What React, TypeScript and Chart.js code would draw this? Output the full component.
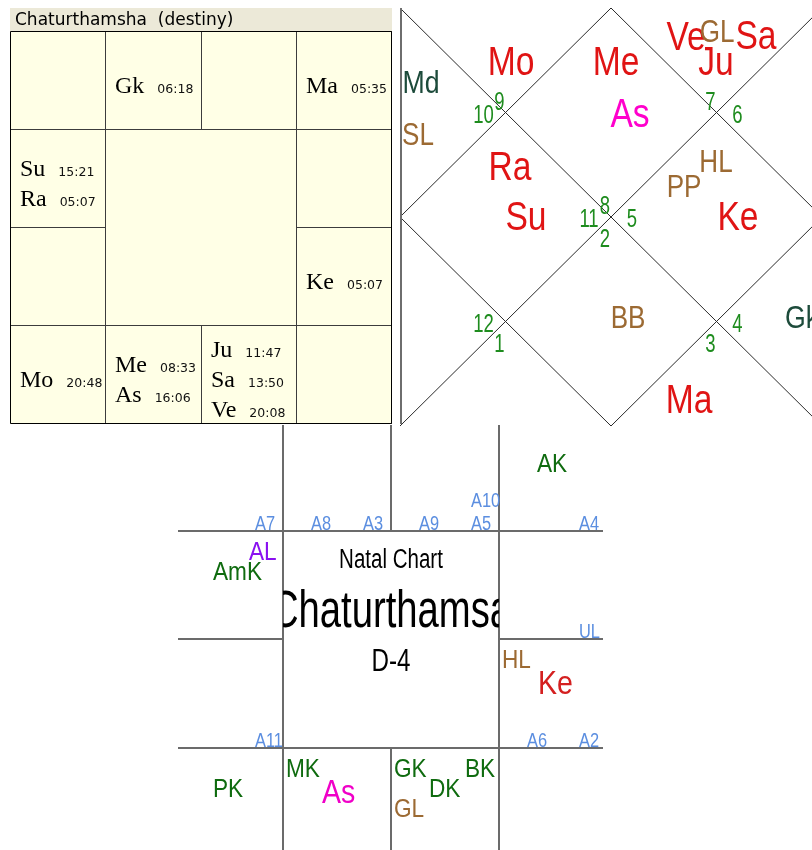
import React, { useEffect, useRef } from "react";
import { Chart, registerables } from "chart.js";
Chart.register(...registerables);

/* ======================= DATA ======================= */
// Panel 1 – "Chaturthamsha (destiny)" square chart: planet, degree, sign
const D4_TITLE = "Chaturthamsha  (destiny)";
const D4_PLANETS = ["Gk", "Ma", "Su", "Ra", "Ke", "Mo", "Me", "As", "Ju", "Sa", "Ve"];
const D4_DEGREES = ["06:18", "05:35", "15:21", "05:07", "05:07", "20:48", "08:33", "16:06", "11:47", "13:50", "20:08"];
const D4_SIGNS = [1, 3, 11, 11, 5, 9, 8, 8, 7, 7, 7];

// Panel 2 – North-Indian diamond chart: sign number of houses 1..12, labels and their houses
const NI_HOUSE_SIGNS = [8, 9, 10, 11, 12, 1, 2, 3, 4, 5, 6, 7];
const NI_LABELS = ["Me", "As", "Mo", "Md", "SL", "Ra", "Su", "BB", "Ma", "Gk", "PP", "HL", "Ke", "Ve", "GL", "Sa", "Ju"];
const NI_LABEL_HOUSES = [1, 1, 2, 3, 3, 4, 4, 7, 8, 9, 10, 10, 10, 12, 12, 12, 12];
const NI_LABEL_KINDS = ["graha", "lagna", "graha", "upagraha", "special", "graha", "graha", "special", "graha", "upagraha", "special", "special", "graha", "graha", "special", "graha", "graha"];

// Panel 3 – Natal Chart (D-4) with arudhas and karakas
const NC_TITLES = ["Natal Chart", "Chaturthamsa", "D-4"];
const NC_ARUDHAS = ["A7", "A8", "A3", "A9", "A5", "A10", "A4", "UL", "A11", "A6", "A2"];
const NC_ARUDHA_SIGNS = [12, 1, 1, 2, 2, 2, 3, 4, 10, 5, 5];
const NC_LABELS = ["AK", "AL", "AmK", "HL", "Ke", "PK", "MK", "As", "GK", "GL", "DK", "BK"];
const NC_LABEL_SIGNS = [3, 11, 11, 5, 5, 9, 8, 8, 7, 7, 7, 7];
const NC_LABEL_KINDS = ["karaka", "arudhaLagna", "karaka", "special", "graha", "karaka", "karaka", "lagna", "karaka", "special", "karaka", "karaka"];

/* ======================= LAYOUT ======================= */
const W = 812;
const H = 850;
// South-Indian fixed sign cells [col,row]
const SOUTH_CELL: Record<number, [number, number]> = {
  12: [0, 0], 1: [1, 0], 2: [2, 0], 3: [3, 0], 4: [3, 1], 5: [3, 2],
  6: [3, 3], 7: [2, 3], 8: [1, 3], 9: [0, 3], 10: [0, 2], 11: [0, 1],
};

// panel 1 geometry
const A_TITLE_BAR = { x0: 10, y0: 8, x1: 392, y1: 31 };
const A_COLS = [10, 105, 201, 296, 391];
const A_ROWS = [31, 129, 227, 325, 423];
const A_NAME_INSET = 10;
const A_LINE_GAP = 30;
const A_BASE_SHIFT = 13;
const A_DEG_GAP = 13;

// panel 2 geometry
const NI_BOX = { x: 400, y: 8, w: 422, h: 418 };
const NI_ANCHORS: [number, number][] = [
  [0.5, 0.25], [0.25, 1 / 12], [1 / 12, 0.25], [0.25, 0.5], [1 / 12, 0.75], [0.25, 11 / 12],
  [0.5, 0.75], [0.75, 11 / 12], [11 / 12, 0.75], [0.75, 0.5], [11 / 12, 0.25], [0.75, 1 / 12],
];
const NI_OFFSETS: [number, number][] = [
  [5, -37.5], [19, 14.5], [5.5, 32.2], [-14.2, -19.5], [-17.2, 32.5], [4.5, -37], [20.5, 13],
  [17, 6.5], [-27.5, 21.8], [15.2, 6.5], [-32.5, -20], [-0.5, -45], [21.5, 13],
  [-30.5, 7.2], [0.5, -0.8], [39.5, 6.2], [-0.5, 32.2],
];
const NI_POINTS: Record<string, [number, number]> = {
  C: [0.5, 0.5], TL: [0.25, 0.25], TR: [0.75, 0.25], BL: [0.25, 0.75], BR: [0.75, 0.75],
};
const NI_DIRS: Record<string, [number, number]> = { up: [-6, -3], left: [-22, 10], right: [21, 10], down: [-6, 30] };
const NI_NUM_POINT = ["C", "TL", "TL", "C", "BL", "BL", "C", "BR", "BR", "C", "TR", "TR"];
const NI_NUM_DIR = ["up", "up", "left", "left", "left", "down", "down", "down", "right", "right", "right", "up"];

// panel 3 geometry
const C_COLS = [175, 283, 391, 499, 607];
const C_ROWS = [423, 531, 639, 748, 856];
const C_ARUDHA_SLOTS: [number, number][] = [[28, -1], [80, -1], [80, -24]];
const NC_ARUDHA_SLOT = [1, 0, 1, 0, 1, 2, 1, 1, 1, 0, 1];
const C_LABEL_SLOTS: [number, number][] = [[3, 29], [74, 29], [38, 49], [3, 69], [39, 55]];
const NC_LABEL_SLOT = [2, 1, 2, 0, 4, 2, 0, 4, 0, 3, 2, 1];
const C_TITLE_BASELINES = [37, 96, 140];
const C_TITLE_KINDS = ["ncTitle", "ncBig", "ncSub"];

/* ======================= STYLES ======================= */
type Style = { font: string; color: string; sx: number; align: CanvasTextAlign; clip?: [number, number, number, number] };
const STYLES: Record<string, Style> = {
  aTitle: { font: "17px 'DejaVu Sans'", color: "#000000", sx: 1, align: "left" },
  aName: { font: "24px 'Liberation Serif'", color: "#000000", sx: 1, align: "left" },
  aDeg: { font: "12.5px 'DejaVu Sans'", color: "#111111", sx: 1, align: "left" },
  graha: { font: "40px 'Liberation Sans'", color: "#E01414", sx: 0.84, align: "center" },
  lagna: { font: "40px 'Liberation Sans'", color: "#FF00CC", sx: 0.84, align: "center" },
  special: { font: "31px 'Liberation Sans'", color: "#9C6A33", sx: 0.84, align: "center" },
  upagraha: { font: "31px 'Liberation Sans'", color: "#1D4B3B", sx: 0.86, align: "center" },
  niNum: { font: "25px 'Liberation Sans'", color: "#1E8C1E", sx: 0.74, align: "center" },
  ncArudha: { font: "20px 'Liberation Sans'", color: "#5B8EE0", sx: 0.82, align: "left" },
  nc_karaka: { font: "26px 'Liberation Sans'", color: "#0F6B0F", sx: 0.87, align: "left" },
  nc_arudhaLagna: { font: "26px 'Liberation Sans'", color: "#8A10F0", sx: 0.87, align: "left" },
  nc_special: { font: "26px 'Liberation Sans'", color: "#9C6A33", sx: 0.87, align: "left" },
  nc_graha: { font: "34px 'Liberation Sans'", color: "#D42020", sx: 0.84, align: "left" },
  nc_lagna: { font: "34px 'Liberation Sans'", color: "#F000C8", sx: 0.84, align: "left" },
  ncTitle: { font: "27px 'Liberation Sans'", color: "#000000", sx: 0.76, align: "center" },
  ncBig: { font: "51px 'Liberation Sans'", color: "#000000", sx: 0.75, align: "center", clip: [C_COLS[1], C_ROWS[1], C_COLS[3], C_ROWS[3]] },
  ncSub: { font: "31px 'Liberation Sans'", color: "#000000", sx: 0.78, align: "center" },
};

type Pt = { x: number; y: number };

function lineSet(pts: Pt[], color: string, width: number) {
  return {
    showLine: true, data: pts, borderColor: color, borderWidth: width,
    pointRadius: 0, pointHoverRadius: 0, fill: false, tension: 0,
  };
}
function textSet(pts: Pt[], texts: string[], kinds: string[], suffixes?: string[]) {
  return {
    showLine: false, data: pts, texts, kinds, suffixes,
    pointRadius: 0, pointHoverRadius: 0, borderWidth: 0, backgroundColor: "transparent",
  };
}

function buildDatasets() {
  const sets: any[] = [];
  // ---------- panel 1 lines ----------
  const h = (v: number) => v + 0.5;
  const AL = "#3c3c3c";
  sets.push(lineSet([{ x: h(A_COLS[0]), y: h(A_ROWS[0]) }, { x: h(A_COLS[4]), y: h(A_ROWS[0]) }, { x: h(A_COLS[4]), y: h(A_ROWS[4]) }, { x: h(A_COLS[0]), y: h(A_ROWS[4]) }, { x: h(A_COLS[0]), y: h(A_ROWS[0]) }], "#000000", 1));
  [1, 3].forEach((c) => sets.push(lineSet([{ x: h(A_COLS[c]), y: A_ROWS[0] }, { x: h(A_COLS[c]), y: A_ROWS[4] }], AL, 1)));
  sets.push(lineSet([{ x: h(A_COLS[2]), y: A_ROWS[0] }, { x: h(A_COLS[2]), y: A_ROWS[1] }], AL, 1));
  sets.push(lineSet([{ x: h(A_COLS[2]), y: A_ROWS[3] }, { x: h(A_COLS[2]), y: A_ROWS[4] }], AL, 1));
  [1, 3].forEach((r) => sets.push(lineSet([{ x: A_COLS[0], y: h(A_ROWS[r]) }, { x: A_COLS[4], y: h(A_ROWS[r]) }], AL, 1)));
  sets.push(lineSet([{ x: A_COLS[0], y: h(A_ROWS[2]) }, { x: A_COLS[1], y: h(A_ROWS[2]) }], AL, 1));
  sets.push(lineSet([{ x: A_COLS[3], y: h(A_ROWS[2]) }, { x: A_COLS[4], y: h(A_ROWS[2]) }], AL, 1));

  // ---------- panel 2 lines ----------
  const nx = (f: number) => NI_BOX.x + f * NI_BOX.w;
  const ny = (f: number) => NI_BOX.y + f * NI_BOX.h;
  const NL = "#2a2a2a";
  sets.push(lineSet([{ x: NI_BOX.x + 1, y: NI_BOX.y }, { x: NI_BOX.x + 1, y: A_ROWS[4] + 1 }], "#6e6e6e", 2));
  sets.push(lineSet([{ x: nx(0), y: ny(0) }, { x: nx(1), y: ny(1) }], NL, 1));
  sets.push(lineSet([{ x: nx(1), y: ny(0) }, { x: nx(0), y: ny(1) }], NL, 1));
  sets.push(lineSet([{ x: nx(0.5), y: ny(0) }, { x: nx(1), y: ny(0.5) }, { x: nx(0.5), y: ny(1) }, { x: nx(0), y: ny(0.5) }, { x: nx(0.5), y: ny(0) }], NL, 1));

  // ---------- panel 3 lines ----------
  const CL = "#6b6b6b";
  const cx0 = C_COLS[0] + 3, cx1 = C_COLS[4] - 4, cy0 = C_ROWS[0] + 2, cy1 = H;
  sets.push(lineSet([{ x: cx0, y: C_ROWS[1] }, { x: cx1, y: C_ROWS[1] }], CL, 2));
  sets.push(lineSet([{ x: cx0, y: C_ROWS[3] }, { x: cx1, y: C_ROWS[3] }], CL, 2));
  sets.push(lineSet([{ x: cx0, y: C_ROWS[2] }, { x: C_COLS[1], y: C_ROWS[2] }], CL, 2));
  sets.push(lineSet([{ x: C_COLS[3], y: C_ROWS[2] }, { x: cx1, y: C_ROWS[2] }], CL, 2));
  sets.push(lineSet([{ x: C_COLS[1], y: cy0 }, { x: C_COLS[1], y: cy1 }], CL, 2));
  sets.push(lineSet([{ x: C_COLS[3], y: cy0 }, { x: C_COLS[3], y: cy1 }], CL, 2));
  sets.push(lineSet([{ x: C_COLS[2], y: cy0 }, { x: C_COLS[2], y: C_ROWS[1] }], CL, 2));
  sets.push(lineSet([{ x: C_COLS[2], y: C_ROWS[3] }, { x: C_COLS[2], y: cy1 }], CL, 2));

  // ---------- panel 1 text ----------
  sets.push(textSet([{ x: A_TITLE_BAR.x0 + 5, y: A_TITLE_BAR.y1 - 6 }], [D4_TITLE], ["aTitle"]));
  const count: Record<number, number> = {};
  D4_SIGNS.forEach((s) => (count[s] = (count[s] || 0) + 1));
  const seen: Record<number, number> = {};
  const aPts = D4_SIGNS.map((s) => {
    const [c, r] = SOUTH_CELL[s];
    const i = (seen[s] = (seen[s] ?? -1) + 1);
    const mid = (A_ROWS[r] + A_ROWS[r + 1]) / 2;
    return { x: A_COLS[c] + A_NAME_INSET, y: mid + A_BASE_SHIFT + A_LINE_GAP * (i - (count[s] - 1) / 2) };
  });
  sets.push(textSet(aPts, D4_PLANETS, D4_PLANETS.map(() => "aName"), D4_DEGREES));

  // ---------- panel 2 text ----------
  const niPts = NI_LABELS.map((_, i) => {
    const [ax, ay] = NI_ANCHORS[NI_LABEL_HOUSES[i] - 1];
    const [dx, dy] = NI_OFFSETS[i];
    return { x: nx(ax) + dx, y: ny(ay) + dy };
  });
  sets.push(textSet(niPts, NI_LABELS, NI_LABEL_KINDS));
  const numPts = NI_HOUSE_SIGNS.map((_, i) => {
    const [px, py] = NI_POINTS[NI_NUM_POINT[i]];
    const [dx, dy] = NI_DIRS[NI_NUM_DIR[i]];
    return { x: nx(px) + dx, y: ny(py) + dy };
  });
  sets.push(textSet(numPts, NI_HOUSE_SIGNS.map(String), NI_HOUSE_SIGNS.map(() => "niNum")));

  // ---------- panel 3 text ----------
  const arPts = NC_ARUDHAS.map((_, i) => {
    const [c, r] = SOUTH_CELL[NC_ARUDHA_SIGNS[i]];
    const [dx, dy] = C_ARUDHA_SLOTS[NC_ARUDHA_SLOT[i]];
    return { x: C_COLS[c] + dx, y: C_ROWS[r + 1] + dy };
  });
  sets.push(textSet(arPts, NC_ARUDHAS, NC_ARUDHAS.map(() => "ncArudha")));
  const lbPts = NC_LABELS.map((_, i) => {
    const [c, r] = SOUTH_CELL[NC_LABEL_SIGNS[i]];
    const [dx, dy] = C_LABEL_SLOTS[NC_LABEL_SLOT[i]];
    return { x: C_COLS[c] + dx, y: C_ROWS[r] + dy };
  });
  sets.push(textSet(lbPts, NC_LABELS, NC_LABEL_KINDS.map((k) => "nc_" + k)));
  const tPts = NC_TITLES.map((_, i) => ({ x: (C_COLS[1] + C_COLS[3]) / 2, y: C_ROWS[1] + C_TITLE_BASELINES[i] }));
  sets.push(textSet(tPts, NC_TITLES, C_TITLE_KINDS));
  return sets;
}

const fillsPlugin = {
  id: "fills",
  beforeDraw(chart: any) {
    const ctx = chart.ctx;
    ctx.save();
    ctx.fillStyle = "#ffffff";
    ctx.fillRect(0, 0, chart.width, chart.height);
    ctx.restore();
  },
  beforeDatasetsDraw(chart: any) {
    const { ctx, scales } = chart;
    const X = (v: number) => scales.x.getPixelForValue(v);
    const Y = (v: number) => scales.y.getPixelForValue(v);
    ctx.save();
    ctx.fillStyle = "#ECE9D8";
    ctx.fillRect(X(A_TITLE_BAR.x0), Y(A_TITLE_BAR.y0), X(A_TITLE_BAR.x1) - X(A_TITLE_BAR.x0), Y(A_TITLE_BAR.y1) - Y(A_TITLE_BAR.y0));
    ctx.fillStyle = "#FFFFE6";
    ctx.fillRect(X(A_COLS[0]), Y(A_ROWS[0]), X(A_COLS[4] + 1) - X(A_COLS[0]), Y(A_ROWS[4] + 1) - Y(A_ROWS[0]));
    ctx.restore();
  },
};

function drawText(ctx: CanvasRenderingContext2D, text: string, x: number, y: number, st: Style, clip?: number[]) {
  ctx.save();
  if (clip) {
    ctx.beginPath();
    ctx.rect(clip[0], clip[1], clip[2] - clip[0], clip[3] - clip[1]);
    ctx.clip();
  }
  ctx.translate(x, y);
  ctx.scale(st.sx, 1);
  ctx.font = st.font;
  ctx.fillStyle = st.color;
  ctx.textAlign = st.align;
  ctx.textBaseline = "alphabetic";
  ctx.fillText(text, 0, 0);
  const w = ctx.measureText(text).width * st.sx;
  ctx.restore();
  return w;
}

const textPlugin = {
  id: "texts",
  afterDatasetsDraw(chart: any) {
    const { ctx, scales } = chart;
    const X = (v: number) => scales.x.getPixelForValue(v);
    const Y = (v: number) => scales.y.getPixelForValue(v);
    chart.data.datasets.forEach((ds: any, i: number) => {
      if (!ds.texts) return;
      const meta = chart.getDatasetMeta(i);
      meta.data.forEach((el: any, j: number) => {
        const st = STYLES[ds.kinds[j]];
        const clip = st.clip ? [X(st.clip[0]), Y(st.clip[1]), X(st.clip[2]), Y(st.clip[3])] : undefined;
        const w = drawText(ctx, ds.texts[j], el.x, el.y, st, clip);
        if (ds.suffixes) {
          drawText(ctx, ds.suffixes[j], el.x + w + A_DEG_GAP, el.y, STYLES.aDeg);
        }
      });
    });
  },
};

export default function App() {
  const ref = useRef<HTMLCanvasElement>(null);
  useEffect(() => {
    document.body.style.margin = "0";
    const canvas = ref.current!;
    const chart = new Chart(canvas, {
      type: "scatter",
      data: { datasets: buildDatasets() as any },
      options: {
        animation: false,
        responsive: false,
        maintainAspectRatio: false,
        events: [],
        layout: { padding: 0 },
        plugins: { legend: { display: false }, tooltip: { enabled: false }, title: { display: false } },
        scales: {
          x: { type: "linear", min: 0, max: W, display: false },
          y: { type: "linear", min: 0, max: H, reverse: true, display: false },
        },
      } as any,
      plugins: [fillsPlugin, textPlugin],
    });
    return () => chart.destroy();
  }, []);
  return (
    <div style={{ width: W, height: H }}>
      <canvas ref={ref} width={W} height={H} style={{ display: "block", width: W, height: H }} />
    </div>
  );
}
